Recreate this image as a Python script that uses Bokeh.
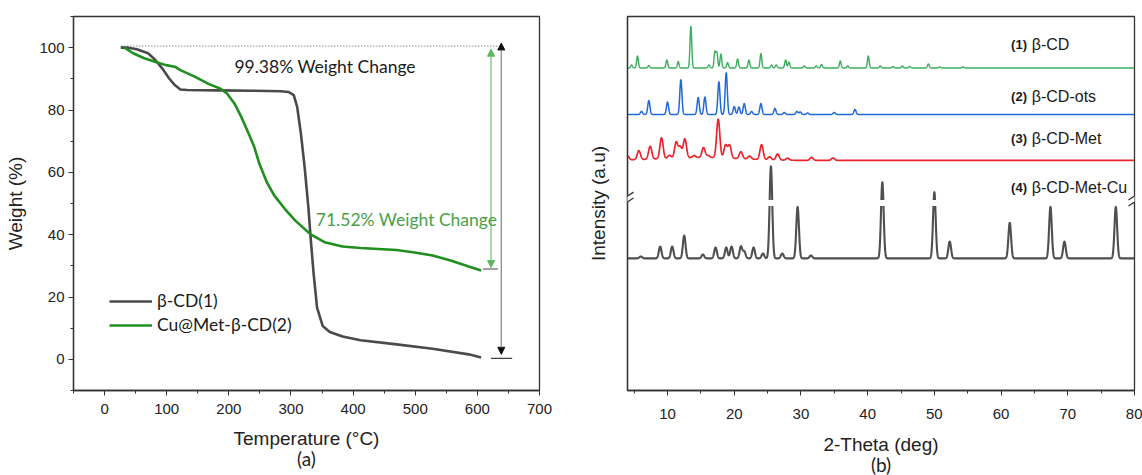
import numpy as np
from bokeh.plotting import figure
from bokeh.layouts import row
from bokeh.models import (Range1d, SingleIntervalTicker, FixedTicker, Legend, LegendItem,
                          Label, Arrow, NormalHead, PolyAnnotation, Title)
from bokeh.embed import file_html
from bokeh.resources import INLINE

# ---------------- (a) TGA data ----------------
bcd_temp = [26, 38, 52, 70, 81, 93, 104, 113, 122, 133, 180, 238, 284, 296, 304.5, 310, 316,
            322, 328, 332, 336.5, 342, 351, 362.5, 383, 412, 470, 528, 586, 606]
bcd_weight = [100, 100, 99.5, 98.2, 96.2, 93.3, 90.1, 88.0, 86.6, 86.4, 86.3, 86.2, 86.0, 85.8,
              84.8, 81.0, 72.4, 61.7, 48.8, 38.1, 27.4, 16.6, 10.7, 8.8, 7.3, 6.1, 4.8, 3.4, 1.6, 0.6]
cu_temp = [32, 46, 64, 81, 99, 113, 122, 145, 168, 186, 197, 209, 220, 232, 241, 249, 261, 273,
           290, 307, 331, 354, 383, 412, 470, 499, 528, 557, 586, 606]
cu_weight = [100, 98.2, 96.6, 95.5, 94.4, 93.9, 92.8, 90.7, 88.3, 86.9, 85.3, 82.1, 77.8, 72.4,
             68.1, 62.8, 56.9, 52.6, 48.3, 44.5, 40.2, 37.6, 36.2, 35.7, 35.1, 34.3, 33.3, 31.7,
             29.8, 28.5]
series_a = ["β-CD(1)", "Cu@Met-β-CD(2)"]
change_texts = ["99.38% Weight Change", "71.52% Weight Change"]
start_weight = 100.0
end_weights = [0.62, 28.48]

# ---------------- (b) XRD data (peak lists) ----------------
xrd_names = ["β-CD", "β-CD-ots", "β-CD-Met", "β-CD-Met-Cu"]
xrd_nums = ["(1)", "(2)", "(3)", "(4)"]
bcd_pos = [4.6, 5.5, 7.2, 9.9, 11.6, 13.5, 16.2, 17.1, 17.4, 18.0, 19.0, 20.5, 22.2, 24.0, 25.6,
           26.3, 27.7, 28.2, 30.5, 32.3, 33.1, 35.9, 37.0, 40.1, 41.9, 43.8, 45.2, 46.3, 49.1, 50.8, 54.3]
bcd_int = [3, 12, 2.5, 8, 6.5, 42, 3, 16, 15, 14, 5.5, 9, 8, 14.5, 3, 3, 8, 6, 2, 2, 3.5, 7, 2,
           12, 2, 1.5, 2, 1.5, 4, 1, 1]
ots_pos = [6.1, 7.2, 10.0, 12.0, 14.6, 15.6, 17.7, 18.8, 20.0, 20.7, 21.5, 22.6, 24.0, 26.1,
           27.5, 29.4, 29.9, 31.0, 35.0, 38.1]
ots_int = [3, 14, 12.5, 35, 17, 17.5, 33, 42, 8, 7.5, 11, 3, 11, 6, 2, 3, 2.5, 1.5, 2, 5]
met_pos = [4.0, 5.7, 7.4, 9.1, 10.3, 11.3, 11.9, 12.6, 14.0, 15.4, 16.1, 17.6, 18.7, 19.3, 21.0,
           22.3, 24.1, 25.3, 26.5, 28.0, 31.6, 34.8]
met_int = [4, 9, 13, 21, 3, 16, 11, 19, 2, 10, 2, 39, 13, 13, 7, 3, 15, 3, 6, 2, 3, 2.5]
met_background = (15.0, 3.0, 6.0)   # broad amorphous hump: centre, height, width
cu_pos = [6.0, 8.9, 10.7, 12.5, 15.3, 17.2, 18.8, 19.6, 21.0, 21.5, 22.9, 24.3, 25.5, 27.2,
          29.5, 31.5, 42.2, 50.0, 52.3, 61.3, 67.4, 69.5, 77.2]
cu_int = [2, 12, 12, 23, 4, 11, 11, 12, 12, 7, 11, 5, 93, 5, 52, 3, 77, 67, 17, 36, 52, 17, 52]

# ---------------- styling constants ----------------
TXT = "#222222"
AX = "#333333"
ARIAL = "Liberation Sans"
CAL = "Lato"


def style_axes(p):
    for ax in (p.xaxis[0], p.yaxis[0]):
        ax.axis_line_color = AX
        ax.axis_line_width = 1.3
        ax.major_tick_line_color = AX
        ax.minor_tick_line_color = AX
        ax.major_tick_in = 0
        ax.major_tick_out = 5
        ax.minor_tick_in = 0
        ax.minor_tick_out = 3
        ax.major_label_text_font = ARIAL
        ax.major_label_text_font_size = "15px"
        ax.major_label_text_color = TXT
        ax.axis_label_text_font = ARIAL
        ax.axis_label_text_font_size = "19px"
        ax.axis_label_text_font_style = "normal"
        ax.axis_label_text_color = TXT
    p.grid.visible = False
    p.outline_line_color = AX
    p.outline_line_width = 1.3
    p.outline_line_alpha = 1.0
    p.background_fill_color = "white"
    p.border_fill_color = "white"


# ================= panel (a) =================
pa = figure(width=584, height=475, x_range=Range1d(-50, 700), y_range=Range1d(-10, 110),
            output_backend="svg", toolbar_location=None,
            min_border_left=73, min_border_right=45, min_border_top=16, min_border_bottom=85)
style_axes(pa)
pa.xaxis.ticker = SingleIntervalTicker(interval=100, num_minor_ticks=2)
pa.yaxis.ticker = SingleIntervalTicker(interval=20, num_minor_ticks=2)
pa.xaxis.axis_label = "Temperature (°C)"
pa.yaxis.axis_label = "Weight (%)"
pa.xaxis.major_label_standoff = 8
pa.yaxis.major_label_standoff = 4
pa.xaxis.axis_label_standoff = 11
pa.yaxis.axis_label_standoff = 10
pa.add_layout(Title(text="(a)", align="center", text_font=CAL, text_font_size="19px",
                    text_font_style="normal", text_color=TXT, standoff=-14), "below")

r1 = pa.line(bcd_temp, bcd_weight, line_color="#4a4a4a", line_width=2.6, line_join="round")
r2 = pa.line(cu_temp, cu_weight, line_color="#1f8f1f", line_width=2.6, line_join="round")

legend = Legend(items=[LegendItem(label=series_a[0], renderers=[r1]),
                       LegendItem(label=series_a[1], renderers=[r2])],
                location=(36, 55), glyph_width=43, glyph_height=20, label_height=20,
                label_standoff=5, spacing=3, padding=0, margin=0, border_line_color=None,
                background_fill_alpha=0, label_text_font=CAL, label_text_font_size="17.5px",
                label_text_color="#1a1a1a")
pa.add_layout(legend)

# dotted reference line at start weight
pa.add_layout(Arrow(start=None, end=None, x_start=27, y_start=start_weight + 0.5, x_end=640,
                    y_end=start_weight + 0.5, line_color="#555555", line_width=1,
                    line_dash="1 2"))
# green double arrow + cap
pa.add_layout(Arrow(start=NormalHead(size=7, fill_color="#5cb85c", line_color="#5cb85c"),
                    end=NormalHead(size=7, fill_color="#5cb85c", line_color="#5cb85c"),
                    x_start=622, y_start=end_weights[1] + 1.0, x_end=622,
                    y_end=start_weight - 0.5, line_color="#7cc67c", line_width=1.3))
pa.add_layout(Arrow(start=None, end=None, x_start=609, y_start=end_weights[1] + 0.5,
                    x_end=633, y_end=end_weights[1] + 0.5, line_color="#444444", line_width=1.2))
# black double arrow + cap
pa.add_layout(Arrow(start=NormalHead(size=7, fill_color="#111111", line_color="#111111"),
                    end=NormalHead(size=7, fill_color="#111111", line_color="#111111"),
                    x_start=638.5, y_start=end_weights[0] + 1.0, x_end=638.5,
                    y_end=start_weight + 1.5, line_color="#8c8c8c", line_width=1.3))
pa.add_layout(Arrow(start=None, end=None, x_start=622, y_start=end_weights[0] - 0.3,
                    x_end=656, y_end=end_weights[0] - 0.3, line_color="#444444", line_width=1.2))

pa.add_layout(Label(x=355, y=94.1, text=change_texts[0], text_align="center",
                    text_baseline="middle", text_font=CAL, text_font_size="17.5px",
                    text_color="#1a1a1a"))
pa.add_layout(Label(x=486, y=44.9, text=change_texts[1], text_align="center",
                    text_baseline="middle", text_font=CAL, text_font_size="17.5px",
                    text_color="#4aa04a"))

# ================= panel (b) =================
pb = figure(width=558, height=475, x_range=Range1d(4, 80), y_range=Range1d(0, 378),
            output_backend="svg", toolbar_location=None,
            min_border_left=40, min_border_right=8, min_border_top=16, min_border_bottom=81)
style_axes(pb)
pb.xaxis.ticker = SingleIntervalTicker(interval=10, num_minor_ticks=2)
pb.yaxis.ticker = FixedTicker(ticks=[])
pb.xaxis.axis_label = "2-Theta (deg)"
pb.yaxis.axis_label = "Intensity (a.u)"
pb.xaxis.major_label_standoff = 13
pb.xaxis.axis_label_standoff = 12
pb.yaxis.axis_label_standoff = 19
pb.add_layout(Title(text="(b)", align="center", text_font=CAL, text_font_size="19px",
                    text_font_style="normal", text_color=TXT, standoff=-14), "below")

grid = np.arange(4.0, 80.0001, 0.02)


def pattern(base, pos, ints, sigma):
    y = np.full_like(grid, base)
    for c, h in zip(pos, ints):
        y = y + h * np.exp(-0.5 * ((grid - c) / sigma) ** 2)
    return y


def with_gap(x, y, lo, hi):
    ox, oy = [], []
    state_in = lo < y[0] < hi
    for i in range(len(x)):
        if i > 0:
            x0, y0, x1, y1 = x[i - 1], y[i - 1], x[i], y[i]
            cr = []
            for b in (lo, hi):
                if (y0 - b) * (y1 - b) < 0:
                    t = (b - y0) / (y1 - y0)
                    cr.append((t, x0 + t * (x1 - x0), b))
            cr.sort()
            for t, xb, b in cr:
                ox.append(xb); oy.append(b)
                if not state_in:
                    ox.append(np.nan); oy.append(np.nan)
                state_in = not state_in
        if not (lo < y[i] < hi):
            ox.append(x[i]); oy.append(y[i])
    return ox, oy


offsets = [326, 279, 232.5, 133.5]
colors_b = ["#3aae5e", "#1f6ad8", "#e8262b", "#4f4f4f"]
widths_b = [1.4, 1.5, 1.7, 2.1]
sigmas = [0.13, 0.16, 0.24, 0.2]
peak_sets = [(bcd_pos, bcd_int), (ots_pos, ots_int), (met_pos, met_int), (cu_pos, cu_int)]
gap_lo, gap_hi = 186.5, 192.5

for k, (pos, ints) in enumerate(peak_sets):
    y = pattern(offsets[k], pos, ints, sigmas[k])
    if k == 2:
        c, h, w = met_background
        y = y + h * np.exp(-0.5 * ((grid - c) / w) ** 2)
    if k == 3:
        xs, ys = with_gap(grid, y, gap_lo, gap_hi)
    else:
        xs, ys = list(grid), list(y)
    pb.line(xs, ys, line_color=colors_b[k], line_width=widths_b[k], line_join="round")

label_y = [349.5, 296.8, 254.2, 205.2]
for k in range(4):
    pb.add_layout(Label(x=61.5, y=label_y[k], text=xrd_nums[k], text_align="left",
                        text_baseline="middle", text_font=ARIAL, text_font_size="13px",
                        text_font_style="bold", text_color="#1a1a1a"))
    pb.add_layout(Label(x=64.6, y=label_y[k], text=xrd_names[k], text_align="left",
                        text_baseline="middle", text_font=ARIAL, text_font_size="16px",
                        text_color="#1a1a1a"))

# axis break marks
brk_y = 193.5
for bx in (4, 80):
    pb.add_layout(PolyAnnotation(xs=[bx - 0.9, bx + 0.9, bx + 0.9, bx - 0.9],
                                 ys=[brk_y - 7, brk_y + 1, brk_y + 7, brk_y - 1],
                                 fill_color="white", fill_alpha=1.0, line_color=None))
    for dy in (-3, 3):
        pb.add_layout(Arrow(start=None, end=None, x_start=bx - 0.9, y_start=brk_y + dy - 4,
                            x_end=bx + 0.9, y_end=brk_y + dy + 4, line_color=AX,
                            line_width=1.3))

layout = row(pa, pb)
open("out.html", "w").write(file_html(layout, INLINE))
